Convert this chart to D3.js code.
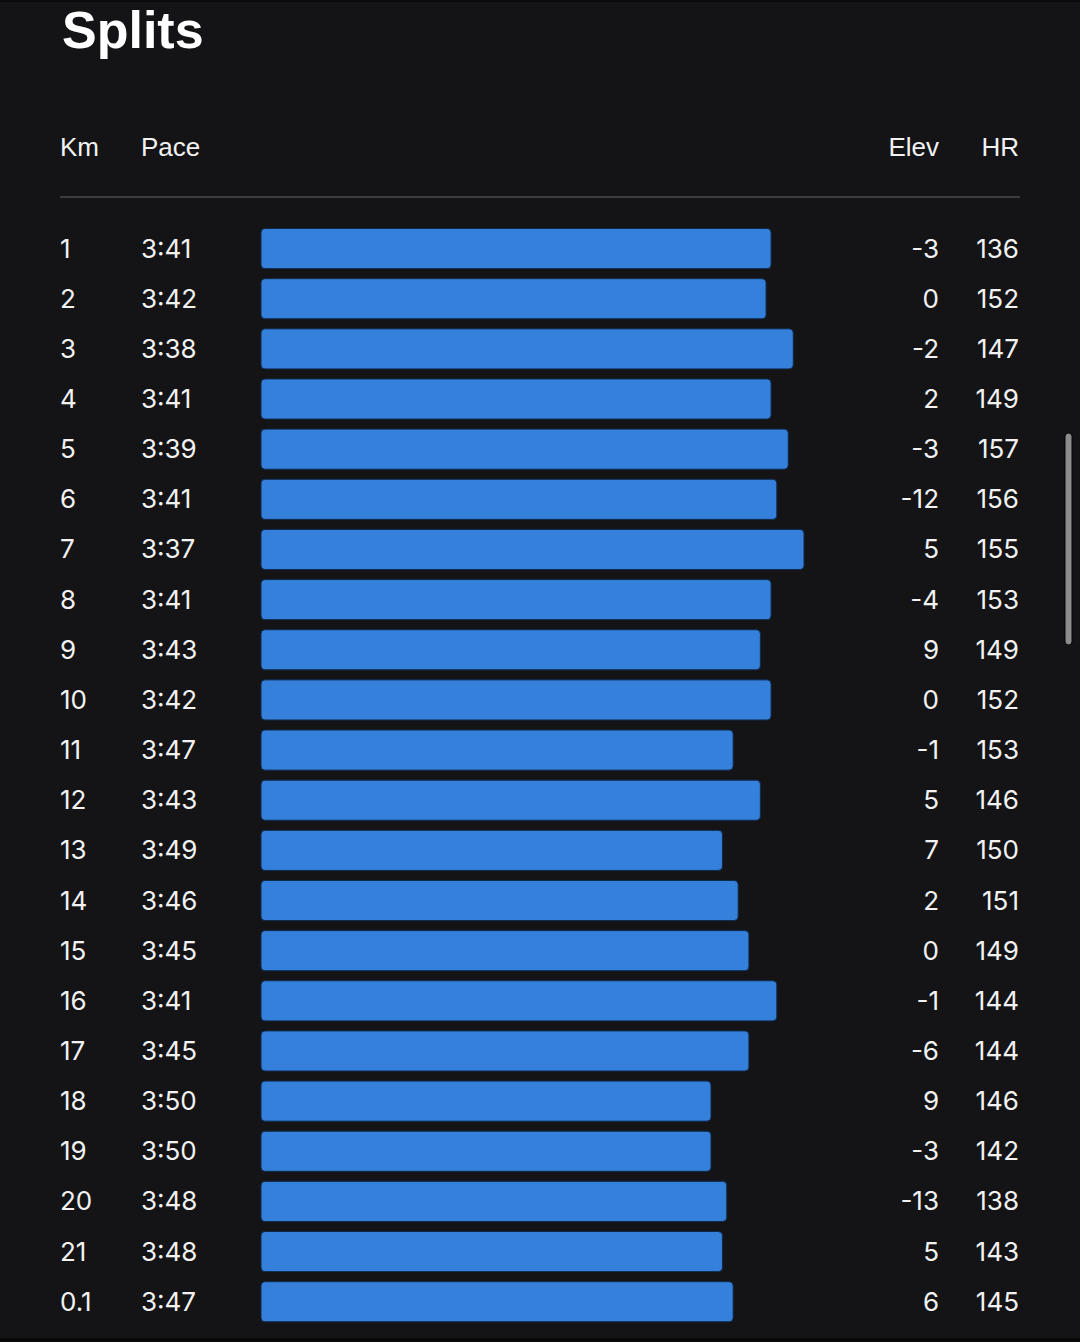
<!DOCTYPE html>
<html><head><meta charset="utf-8">
<script src="https://cdn.jsdelivr.net/npm/d3@7"></script>
<style>
html,body{margin:0;padding:0;background:#141416;}
svg{display:block;}
</style></head>
<body>
<svg id="chart" width="1080" height="1342"></svg>
<script>
const kmLabels = ["1","2","3","4","5","6","7","8","9","10","11","12","13","14","15","16","17","18","19","20","21","0.1"];
const paceLabels = ["3:41","3:42","3:38","3:41","3:39","3:41","3:37","3:41","3:43","3:42","3:47","3:43","3:49","3:46","3:45","3:41","3:45","3:50","3:50","3:48","3:48","3:47"];
// pace in seconds per km
const paceSeconds = [221.6,222.3,218.5,221.6,219.2,220.8,217.0,221.6,223.1,221.6,226.9,223.1,228.4,226.2,224.7,220.8,224.7,230.0,230.0,227.8,228.4,226.9];
const elevValues = [-3,0,-2,2,-3,-12,5,-4,9,0,-1,5,7,2,0,-1,-6,9,-3,-13,5,6];
const hrValues = [136,152,147,149,157,156,155,153,149,152,153,146,150,151,149,144,144,146,142,138,143,145];
const headers = ["Km","Pace","Elev","HR"];

const svg = d3.select("#chart");
const W = 1080, H = 1342;
svg.append("rect").attr("width",W).attr("height",H).attr("fill","#141416");
svg.append("rect").attr("x",0).attr("y",0).attr("width",W).attr("height",2).attr("fill","#0a0a0b");
svg.append("rect").attr("x",0).attr("y",H-4).attr("width",W).attr("height",4).attr("fill","#0a0a0b");

const numFont = "Inter, 'Noto Sans', sans-serif";
const headFont = "'Liberation Sans', Arial, sans-serif";

svg.append("text").attr("x",62).attr("y",48)
  .attr("font-family",headFont).attr("font-weight",700).attr("font-size",52)
  .attr("fill","#ffffff").text("Splits");

const colX = {Km:60, Pace:141, Elev:939, HR:1019};
headers.forEach(h=>{
  const right = (h==="Elev"||h==="HR");
  svg.append("text").attr("x",colX[h]).attr("y",156)
    .attr("text-anchor", right?"end":"start")
    .attr("font-family",headFont).attr("font-size",26)
    .attr("fill","#f2f2f2").text(h);
});
svg.append("line").attr("x1",60).attr("x2",1020).attr("y1",197).attr("y2",197)
  .attr("stroke","#3d3d40").attr("stroke-width",2);

const y = d3.scaleBand().domain(d3.range(kmLabels.length)).range([223.5, 1326.8]).paddingInner(0.2).paddingOuter(0.1);
// bar length grows as pace gets faster
const x = d3.scaleLinear().domain([292.9, 217.0]).range([0, 543]);
const x0 = 261;

const rows = svg.append("g").selectAll("g").data(kmLabels.map((k,i)=>i)).join("g");
rows.append("rect")
  .attr("x",x0).attr("y",i=>y(i)).attr("height",y.bandwidth())
  .attr("width",i=>x(paceSeconds[i]))
  .attr("rx",4).attr("ry",4)
  .attr("fill","#3580db").attr("stroke","#0f2a4d").attr("stroke-width",1);

const cy = i => y(i) + y.bandwidth()/2 + 9;
rows.append("text").attr("x",colX.Km).attr("y",cy)
  .attr("font-family",numFont).attr("font-size",26).attr("fill","#f2f2f2")
  .text(i=>kmLabels[i]);
rows.append("text").attr("x",colX.Pace).attr("y",cy)
  .attr("font-family",numFont).attr("font-size",26).attr("fill","#f2f2f2")
  .text(i=>paceLabels[i]);
rows.append("text").attr("x",colX.Elev).attr("y",cy).attr("text-anchor","end")
  .attr("font-family",numFont).attr("font-size",26).attr("fill","#f2f2f2")
  .text(i=>elevValues[i]);
rows.append("text").attr("x",colX.HR).attr("y",cy).attr("text-anchor","end")
  .attr("font-family",numFont).attr("font-size",26).attr("fill","#f2f2f2")
  .text(i=>hrValues[i]);

// scrollbar
svg.append("rect").attr("x",1065).attr("y",433).attr("width",7).attr("height",212)
  .attr("rx",3.5).attr("fill","#8c8c8c").attr("stroke","#050505").attr("stroke-width",1);
</script>
</body></html>
